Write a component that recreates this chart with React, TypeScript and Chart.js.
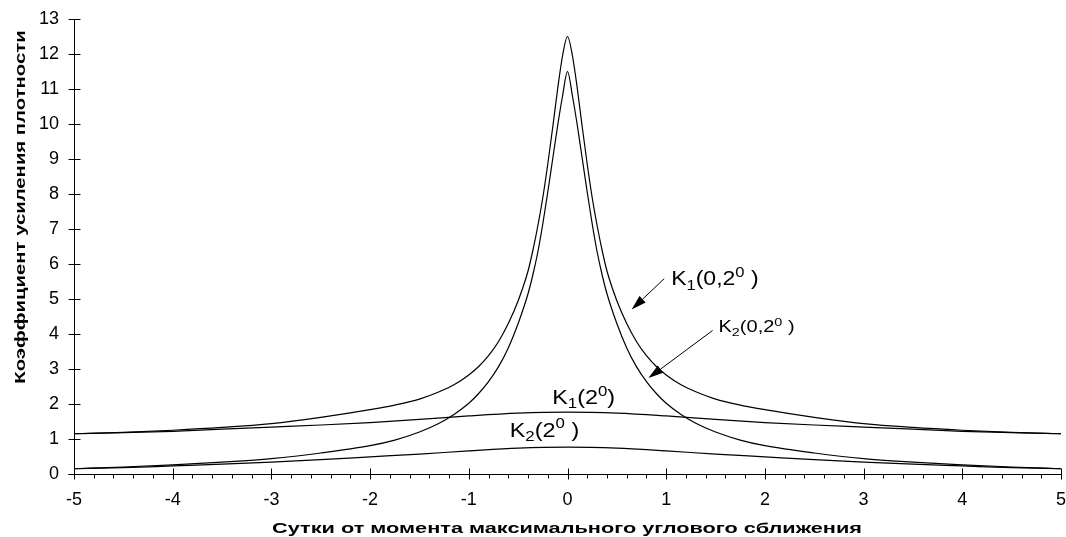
import React, { useEffect, useRef } from 'react';
import { Chart, registerables } from 'chart.js';

Chart.register(...registerables);

// ---- data ----
const days = [
  -5, -4.5, -4, -3.5, -3, -2.5, -2, -1.75, -1.5, -1.3, -1.15, -1, -0.9, -0.8, -0.7, -0.6, -0.5, -0.4,
  -0.35, -0.3, -0.25, -0.2, -0.15, -0.1, -0.05, 0, 0.05, 0.1, 0.15, 0.2, 0.25, 0.3, 0.35, 0.4, 0.5,
  0.6, 0.7, 0.8, 0.9, 1, 1.15, 1.3, 1.5, 1.75, 2, 2.5, 3, 3.5, 4, 4.5, 5,
];
const k1Close = [
  1.15, 1.19, 1.25, 1.33, 1.44, 1.62, 1.84, 1.97, 2.14, 2.35, 2.55, 2.83, 3.07, 3.38, 3.78, 4.3, 4.95, 5.8,
  6.4, 7.1, 7.9, 8.85, 9.9, 11.0, 11.95, 12.5, 11.95, 11.0, 9.9, 8.85, 7.9, 7.1, 6.4, 5.8, 4.95,
  4.3, 3.78, 3.38, 3.07, 2.83, 2.55, 2.35, 2.14, 1.97, 1.84, 1.62, 1.44, 1.33, 1.25, 1.19, 1.15,
];
const k2Close = [
  0.15, 0.2, 0.26, 0.34, 0.44, 0.6, 0.81, 0.97, 1.2, 1.45, 1.7, 2.02, 2.3, 2.64, 3.06, 3.6, 4.3, 5.15,
  5.7, 6.35, 7.15, 8.05, 9.0, 9.95, 10.8, 11.5, 10.8, 9.95, 9.0, 8.05, 7.15, 6.35, 5.7, 5.15, 4.3,
  3.6, 3.06, 2.64, 2.3, 2.02, 1.7, 1.45, 1.2, 0.97, 0.81, 0.6, 0.44, 0.34, 0.26, 0.2, 0.15,
];
const daysWide = [-5, -4.5, -4, -3.5, -3, -2.5, -2, -1.5, -1, -0.5, 0, 0.5, 1, 1.5, 2, 2.5, 3, 3.5, 4, 4.5, 5];
const k1Wide = [1.15, 1.18, 1.22, 1.28, 1.34, 1.4, 1.47, 1.56, 1.66, 1.74, 1.77, 1.74, 1.66, 1.56, 1.47, 1.4, 1.34, 1.28, 1.22, 1.18, 1.15];
const k2Wide = [0.15, 0.18, 0.23, 0.28, 0.34, 0.41, 0.49, 0.57, 0.66, 0.74, 0.77, 0.74, 0.66, 0.57, 0.49, 0.41, 0.34, 0.28, 0.23, 0.18, 0.15];

const xTickValues = [-5, -4, -3, -2, -1, 0, 1, 2, 3, 4, 5];
const yTickValues = [0, 1, 2, 3, 4, 5, 6, 7, 8, 9, 10, 11, 12, 13];

const xTitle = 'Сутки от момента максимального углового сближения';
const yTitle = 'Коэффициент усиления плотности';

type Part = [string, 'n' | 'sub' | 'sup'];
const notes: { parts: Part[]; x: number; y: number; size: number; sx: number }[] = [
  { parts: [['K', 'n'], ['1', 'sub'], ['(0,2', 'n'], ['0', 'sup'], [' )', 'n']], x: 1.05, y: 5.39, size: 20, sx: 1.15 },
  { parts: [['K', 'n'], ['2', 'sub'], ['(0,2', 'n'], ['0', 'sup'], [' )', 'n']], x: 1.53, y: 4.05, size: 16, sx: 1.25 },
  { parts: [['K', 'n'], ['1', 'sub'], ['(2', 'n'], ['0', 'sup'], [')', 'n']], x: -0.155, y: 2.0, size: 20, sx: 1.17 },
  { parts: [['K', 'n'], ['2', 'sub'], ['(2', 'n'], ['0', 'sup'], [' )', 'n']], x: -0.585, y: 1.07, size: 20, sx: 1.17 },
];
const arrows = [
  { from: [0.98, 5.58], to: [0.65, 4.7] },
  { from: [1.47, 4.1], to: [0.82, 2.74] },
];

const FONT = '"Liberation Sans", Arial, Helvetica, sans-serif';

const overlay = {
  id: 'overlay',
  afterDraw(chart: any) {
    const { ctx } = chart;
    const xs = chart.scales.x;
    const ys = chart.scales.y;
    const px = (v: number) => xs.getPixelForValue(v);
    const py = (v: number) => ys.getPixelForValue(v);
    ctx.save();
    ctx.strokeStyle = '#000';
    ctx.fillStyle = '#000';
    ctx.lineWidth = 1;
    const ax = Math.round(px(-5)) + 0.5;
    const ay = Math.round(py(0)) + 0.5;
    const top = Math.round(py(13)) + 0.5;
    const right = Math.round(px(5)) + 0.5;
    ctx.beginPath();
    ctx.moveTo(ax, top);
    ctx.lineTo(ax, ay);
    ctx.moveTo(ax - 6, ay);
    ctx.lineTo(right, ay);
    yTickValues.forEach((v) => {
      const y = Math.round(py(v)) + 0.5;
      ctx.moveTo(ax - 6, y);
      ctx.lineTo(ax + 6, y);
    });
    xTickValues.forEach((v) => {
      const x = Math.round(px(v)) + 0.5;
      ctx.moveTo(x, ay - 6);
      ctx.lineTo(x, ay + 5);
    });
    for (let i = -25; i <= 25; i++) {
      if (i % 5 === 0) continue;
      const x = Math.round(px(i / 5)) + 0.5;
      ctx.moveTo(x, ay);
      ctx.lineTo(x, ay + 4);
    }
    ctx.stroke();

    // arrows
    arrows.forEach((a) => {
      const x1 = px(a.from[0]);
      const y1 = py(a.from[1]);
      const x2 = px(a.to[0]);
      const y2 = py(a.to[1]);
      const ang = Math.atan2(y2 - y1, x2 - x1);
      const L = 15;
      const W = 4.5;
      const bx = x2 - L * Math.cos(ang);
      const by = y2 - L * Math.sin(ang);
      ctx.beginPath();
      ctx.moveTo(x1, y1);
      ctx.lineTo(bx, by);
      ctx.stroke();
      ctx.beginPath();
      ctx.moveTo(x2, y2);
      ctx.lineTo(bx + W * Math.sin(ang), by - W * Math.cos(ang));
      ctx.lineTo(bx - W * Math.sin(ang), by + W * Math.cos(ang));
      ctx.closePath();
      ctx.fill();
    });

    // annotations
    notes.forEach((n) => {
      ctx.save();
      ctx.translate(px(n.x), py(n.y));
      ctx.scale(n.sx, 1);
      ctx.textBaseline = 'alphabetic';
      ctx.textAlign = 'left';
      let cx = 0;
      n.parts.forEach(([t, k]) => {
        const s = k === 'n' ? n.size : n.size * 0.72;
        ctx.font = `${s}px ${FONT}`;
        const dy = k === 'sub' ? n.size * 0.22 : k === 'sup' ? -n.size * 0.42 : 0;
        ctx.fillText(t, cx, dy);
        cx += ctx.measureText(t).width;
      });
      ctx.restore();
    });

    // axis titles
    ctx.font = `bold 14px ${FONT}`;
    ctx.textAlign = 'center';
    ctx.textBaseline = 'alphabetic';
    ctx.save();
    ctx.translate(567, 533);
    ctx.scale(1.55, 1);
    ctx.fillText(xTitle, 0, 0);
    ctx.restore();

    ctx.save();
    ctx.translate(25, 207);
    ctx.rotate(-Math.PI / 2);
    ctx.scale(1.45, 1);
    ctx.fillText(yTitle, 0, 0);
    ctx.restore();

    ctx.restore();
  },
};

export default function App() {
  const ref = useRef<HTMLCanvasElement | null>(null);
  useEffect(() => {
    if (!ref.current) return;
    document.documentElement.style.overflow = 'hidden';
    document.body.style.overflow = 'hidden';
    document.body.style.margin = '0';
    const line = (data: { x: number; y: number }[], label: string) => ({
      label,
      data,
      borderColor: '#000',
      borderWidth: 1.2,
      pointRadius: 0,
      fill: false,
      cubicInterpolationMode: 'monotone' as const,
    });
    const chart = new Chart(ref.current, {
      type: 'line',
      data: {
        datasets: [
          line(days.map((d, i) => ({ x: d, y: k1Close[i] })), 'K1(0,2°)'),
          line(days.map((d, i) => ({ x: d, y: k2Close[i] })), 'K2(0,2°)'),
          line(daysWide.map((d, i) => ({ x: d, y: k1Wide[i] })), 'K1(2°)'),
          line(daysWide.map((d, i) => ({ x: d, y: k2Wide[i] })), 'K2(2°)'),
        ],
      },
      options: {
        animation: false,
        responsive: true,
        maintainAspectRatio: false,
        layout: { padding: { left: 0, right: 5, top: 19, bottom: 0 } },
        plugins: { legend: { display: false }, tooltip: { enabled: false } },
        scales: {
          x: {
            type: 'linear',
            min: -5,
            max: 5,
            afterBuildTicks: (s: any) => {
              s.ticks = xTickValues.map((v) => ({ value: v }));
            },
            afterFit: (s: any) => {
              s.height = 63;
              s.paddingLeft = 0;
              s.paddingRight = 0;
            },
            ticks: {
              font: { size: 18, family: FONT },
              color: '#000',
              padding: 15,
              maxRotation: 0,
              autoSkip: false,
            },
            grid: { display: false, drawTicks: false },
            border: { display: false },
          },
          y: {
            type: 'linear',
            min: 0,
            max: 13,
            afterBuildTicks: (s: any) => {
              s.ticks = yTickValues.map((v) => ({ value: v }));
            },
            afterFit: (s: any) => {
              s.width = 74;
              s.paddingTop = 0;
              s.paddingBottom = 0;
            },
            ticks: {
              font: { size: 18, family: FONT },
              color: '#000',
              padding: 15,
              autoSkip: false,
            },
            grid: { display: false, drawTicks: false },
            border: { display: false },
          },
        },
      },
      plugins: [overlay],
    });
    return () => chart.destroy();
  }, []);
  return (
    <div style={{ position: 'fixed', left: 0, top: 0, width: 1066, height: 537, background: '#fff', overflow: 'hidden' }}>
      <canvas ref={ref} />
    </div>
  );
}
